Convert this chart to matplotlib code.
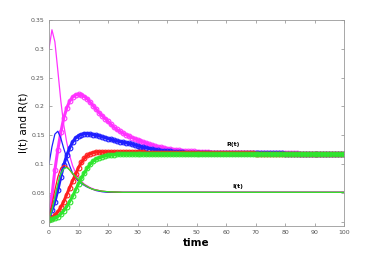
import matplotlib
matplotlib.use('Agg')
import matplotlib.pyplot as plt

# time grid for the I(t) lines
t_line = [0, 1, 2, 3, 4, 5, 6, 7, 8, 9, 10, 11, 12, 13, 14, 15, 16, 18, 20,
          25, 30, 40, 50, 60, 70, 80, 90, 100]

I_magenta = [0.300, 0.333, 0.312, 0.262, 0.210, 0.168, 0.138, 0.115, 0.097, 0.085,
             0.076, 0.070, 0.065, 0.062, 0.059, 0.057, 0.055, 0.053, 0.052,
             0.051, 0.051, 0.051, 0.051, 0.051, 0.051, 0.051, 0.051, 0.051]
I_blue = [0.100, 0.130, 0.152, 0.157, 0.145, 0.127, 0.111, 0.097, 0.084, 0.076,
          0.070, 0.066, 0.063, 0.060, 0.058, 0.056, 0.054, 0.052, 0.051,
          0.051, 0.051, 0.051, 0.051, 0.051, 0.051, 0.051, 0.051, 0.051]
I_red = [0.010, 0.030, 0.055, 0.078, 0.093, 0.098, 0.096, 0.090, 0.083, 0.077,
         0.072, 0.068, 0.064, 0.061, 0.058, 0.056, 0.055, 0.053, 0.052,
         0.051, 0.051, 0.051, 0.051, 0.051, 0.051, 0.051, 0.051, 0.051]
I_green = [0.005, 0.020, 0.042, 0.066, 0.083, 0.092, 0.094, 0.090, 0.084, 0.078,
           0.073, 0.068, 0.064, 0.061, 0.058, 0.056, 0.055, 0.053, 0.052,
           0.051, 0.051, 0.051, 0.051, 0.051, 0.051, 0.051, 0.051, 0.051]

# time grid for the R(t) circles (one marker per time unit)
t_mark = list(range(0, 101))

R_magenta = [0.010, 0.045, 0.090, 0.125, 0.155, 0.180, 0.197, 0.209, 0.216, 0.220,
             0.221, 0.220, 0.217, 0.213, 0.207, 0.201, 0.195, 0.189, 0.184, 0.179,
             0.174, 0.169, 0.164, 0.160, 0.157, 0.154, 0.151, 0.149, 0.146, 0.144,
             0.142, 0.140, 0.138, 0.136, 0.134, 0.133, 0.131, 0.130, 0.129, 0.128,
             0.127, 0.126, 0.125, 0.125, 0.124, 0.123, 0.123, 0.122, 0.122, 0.122,
             0.121, 0.121, 0.121, 0.121, 0.121, 0.120, 0.120, 0.120, 0.120, 0.120,
             0.120, 0.120, 0.120, 0.120, 0.120, 0.119, 0.119, 0.119, 0.119, 0.119,
             0.119, 0.119, 0.119, 0.119, 0.119, 0.119, 0.119, 0.119, 0.119, 0.119,
             0.119, 0.119, 0.119, 0.119, 0.119, 0.118, 0.118, 0.118, 0.118, 0.118,
             0.118, 0.118, 0.118, 0.118, 0.118, 0.118, 0.118, 0.118, 0.118, 0.118,
             0.118]
R_blue = [0.010, 0.020, 0.035, 0.055, 0.078, 0.098, 0.115, 0.128, 0.138, 0.145,
          0.149, 0.151, 0.153, 0.153, 0.152, 0.151, 0.150, 0.149, 0.147, 0.146,
          0.144, 0.143, 0.141, 0.140, 0.139, 0.138, 0.137, 0.136, 0.135, 0.133,
          0.132, 0.130, 0.129, 0.128, 0.127, 0.126, 0.125, 0.124, 0.123, 0.123,
          0.122, 0.122, 0.121, 0.121, 0.121, 0.121, 0.120, 0.120, 0.120, 0.120,
          0.120, 0.120, 0.120, 0.120, 0.120, 0.120, 0.119, 0.119, 0.119, 0.119,
          0.119, 0.119, 0.119, 0.119, 0.119, 0.119, 0.119, 0.119, 0.119, 0.119,
          0.119, 0.119, 0.119, 0.119, 0.119, 0.119, 0.119, 0.119, 0.119, 0.119,
          0.118, 0.118, 0.118, 0.118, 0.118, 0.118, 0.118, 0.118, 0.118, 0.118,
          0.118, 0.118, 0.118, 0.118, 0.118, 0.118, 0.118, 0.118, 0.118, 0.118,
          0.118]
R_red = [0.005, 0.007, 0.011, 0.017, 0.025, 0.035, 0.047, 0.059, 0.071, 0.082,
         0.094, 0.103, 0.110, 0.115, 0.118, 0.120, 0.121, 0.121, 0.121, 0.121,
         0.121, 0.121, 0.121, 0.121, 0.121, 0.121, 0.121, 0.121, 0.121, 0.121,
         0.121, 0.121, 0.121, 0.120, 0.120, 0.120, 0.120, 0.120, 0.120, 0.120,
         0.120, 0.120, 0.120, 0.120, 0.120, 0.120, 0.120, 0.120, 0.120, 0.120,
         0.119, 0.119, 0.119, 0.119, 0.119, 0.119, 0.119, 0.119, 0.119, 0.119,
         0.119, 0.119, 0.119, 0.119, 0.119, 0.119, 0.119, 0.119, 0.119, 0.119,
         0.118, 0.118, 0.118, 0.118, 0.118, 0.118, 0.118, 0.118, 0.118, 0.118,
         0.118, 0.118, 0.118, 0.118, 0.118, 0.118, 0.118, 0.118, 0.118, 0.118,
         0.118, 0.118, 0.118, 0.118, 0.118, 0.118, 0.118, 0.118, 0.118, 0.118,
         0.118]
R_green = [0.003, 0.004, 0.006, 0.009, 0.013, 0.019, 0.026, 0.035, 0.044, 0.055,
           0.066, 0.076, 0.085, 0.093, 0.100, 0.105, 0.109, 0.111, 0.113, 0.114,
           0.115, 0.116, 0.116, 0.117, 0.117, 0.117, 0.117, 0.117, 0.117, 0.117,
           0.117, 0.117, 0.117, 0.117, 0.117, 0.117, 0.117, 0.117, 0.117, 0.117,
           0.117, 0.117, 0.117, 0.117, 0.117, 0.117, 0.117, 0.117, 0.117, 0.117,
           0.117, 0.117, 0.117, 0.117, 0.117, 0.117, 0.117, 0.117, 0.117, 0.117,
           0.117, 0.117, 0.117, 0.117, 0.117, 0.117, 0.117, 0.117, 0.117, 0.117,
           0.117, 0.117, 0.117, 0.117, 0.117, 0.117, 0.117, 0.117, 0.117, 0.117,
           0.117, 0.117, 0.117, 0.117, 0.117, 0.117, 0.117, 0.117, 0.117, 0.117,
           0.117, 0.117, 0.117, 0.117, 0.117, 0.117, 0.117, 0.117, 0.117, 0.117,
           0.117]

x_ticks = [0, 10, 20, 30, 40, 50, 60, 70, 80, 90, 100]
y_ticks = [0, 0.05, 0.1, 0.15, 0.2, 0.25, 0.3, 0.35]
y_tick_labels = ['0', '0.05', '0.1', '0.15', '0.2', '0.25', '0.3', '0.35']

series = [
    (I_magenta, R_magenta, '#ff33ff'),
    (I_blue, R_blue, '#1f1fff'),
    (I_red, R_red, '#ff1f1f'),
    (I_green, R_green, '#2ee62e'),
]

fig = plt.figure(figsize=(3.81, 2.56), dpi=100)
ax = fig.add_axes([0.1286, 0.117, 0.7744, 0.805])

for I_vals, R_vals, col in series:
    ax.plot(t_line, I_vals, '-', color=col, lw=0.9)
    # circles drawn so densely in the original that they merge into a band
    ax.plot(t_mark, R_vals, '-o', color=col, lw=2.2, ms=3.4, mfc='none', mew=0.8)

ax.set_xlim(0, 100)
ax.set_ylim(-0.0075, 0.35)
ax.set_xticks(x_ticks)
ax.set_yticks(y_ticks)
ax.set_yticklabels(y_tick_labels)
ax.tick_params(direction='in', top=True, right=True, length=2, width=0.5,
               labelsize=4.5, colors='#888888', labelcolor='#555555', pad=3)
for sp in ax.spines.values():
    sp.set_color('#999999')
    sp.set_linewidth(0.6)

ax.set_xlabel('time', fontsize=7.5, fontweight='bold', labelpad=2)
ax.set_ylabel('I(t) and R(t)', fontsize=7.5, labelpad=2)

ax.text(62.5, 0.13, 'R(t)', fontsize=4.5, fontweight='bold', ha='center', va='bottom')
ax.text(64, 0.056, 'I(t)', fontsize=4.5, fontweight='bold', ha='center', va='bottom')

fig.savefig('out.png', dpi=100)
